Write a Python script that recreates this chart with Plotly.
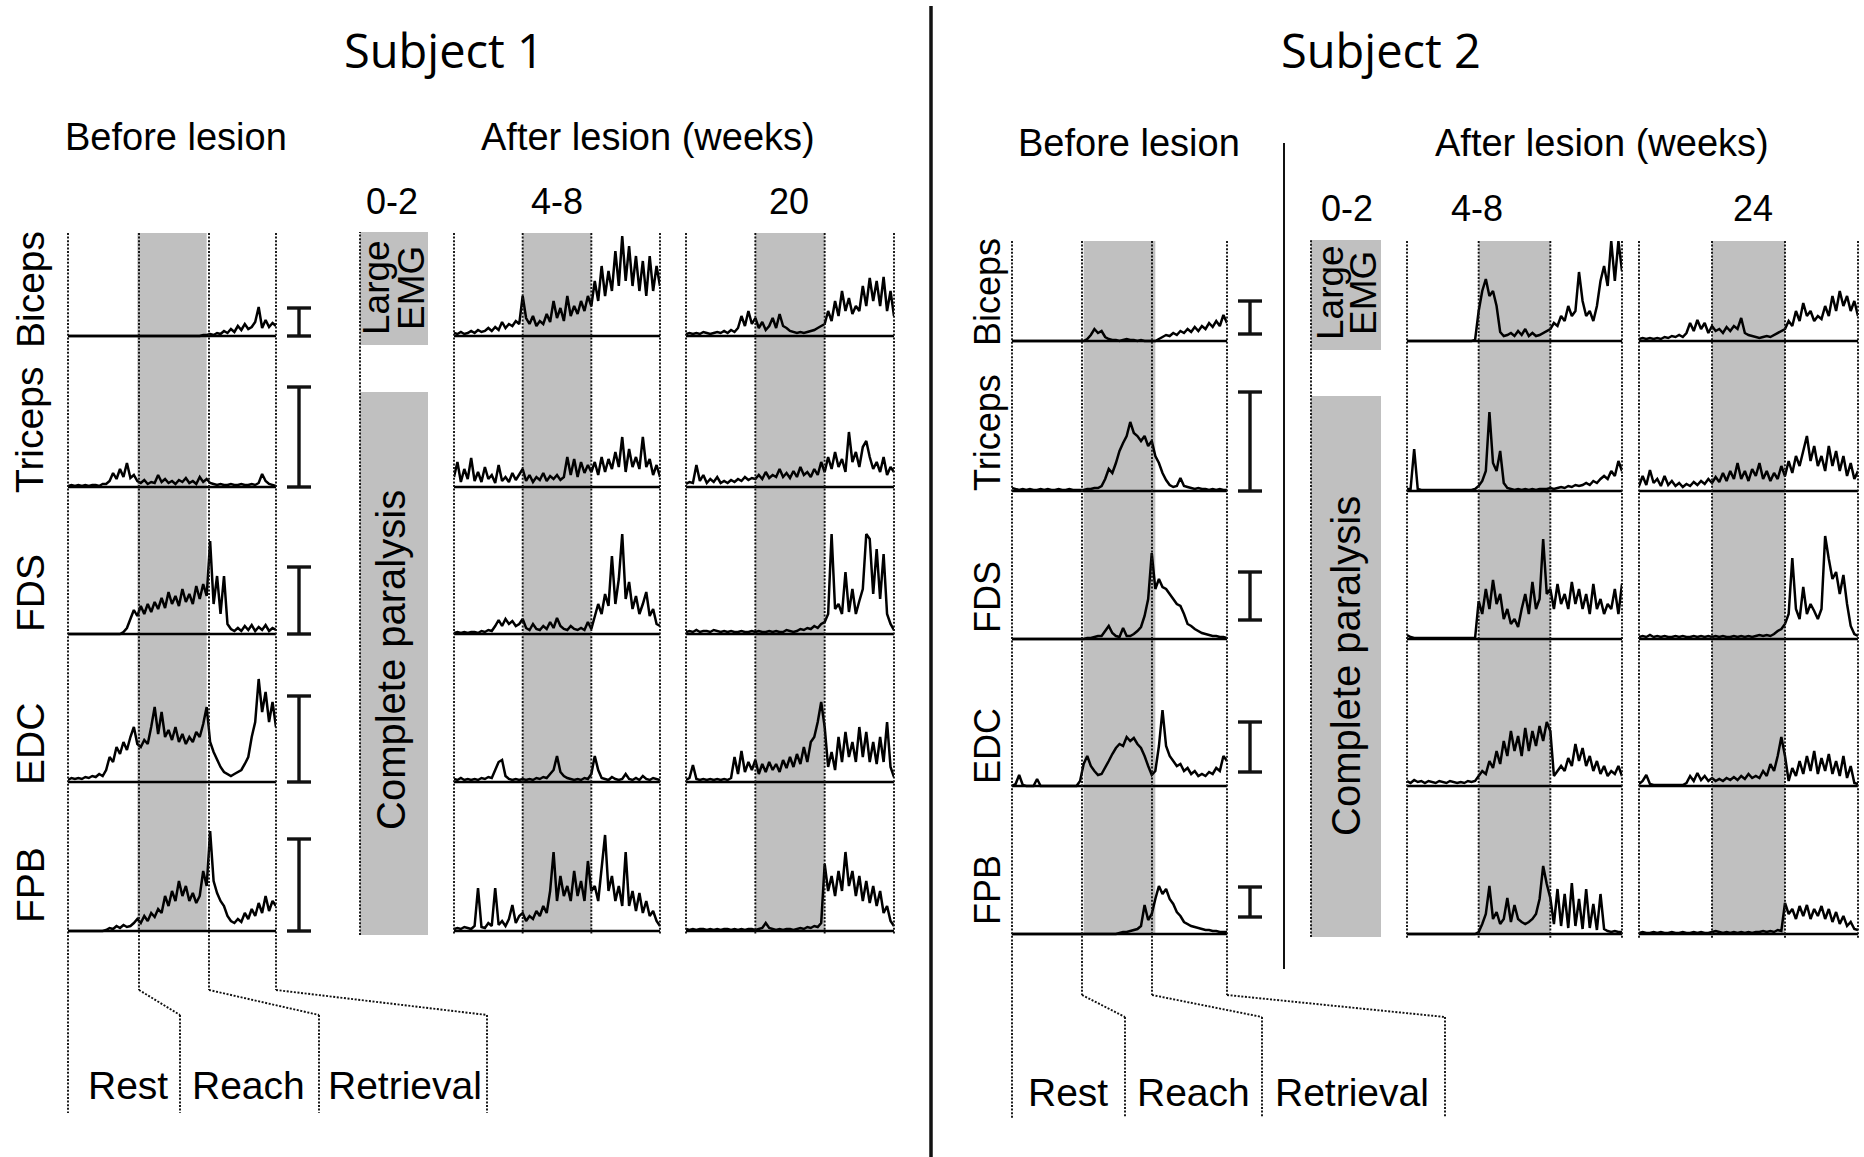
import plotly.graph_objects as go

W, H = 1864, 1157

# ---------------- labels ----------------
MUSCLES = ["Biceps", "Triceps", "FDS", "EDC", "FPB"]
PHASES = ["Rest", "Reach", "Retrieval"]
S1_PERIODS = ["0-2", "4-8", "20"]
S2_PERIODS = ["0-2", "4-8", "24"]

# sample positions in phase units (0-1 rest, 1-2 reach, 2-3 retrieval)
N = 61
X = [i * 0.05 for i in range(N)]

# ---------------- EMG envelopes (px above baseline) ----------------
# Subject 1, before lesion
S1_PRE_BICEPS = [0,0,0,0,0,0,0,0,0,0, 0,0,0,0,0,0,0,0,0,0, 0,0,0,0,0,0,0,0,0,0,
                 0,0,0,0,0,0,0,0,0,1, 1,2,1,3,2,5,3,7,4,10, 6,12,7,9,14,29,8,16,9,13, 10]
S1_PRE_TRICEPS = [1,2,1,2,1,2,1,2,2,1, 3,3,6,14,8,18,10,24,9,12, 6,4,7,3,5,4,12,5,8,4,
                  6,3,7,5,9,4,6,3,10,5, 8,4,3,2,3,2,2,3,2,2, 3,2,2,3,2,4,13,6,3,2, 1]
S1_PRE_FDS = [0,0,0,0,0,0,0,0,0,0, 0,0,0,0,0,0,2,6,15,24, 18,28,20,30,22,32,25,36,26,42,
              30,38,28,45,32,40,30,48,35,50, 38,93,30,58,20,58,10,5,3,6, 3,8,4,9,3,7,4,9,3,6, 4]
S1_PRE_EDC = [2,4,3,4,3,5,4,6,5,8, 6,12,25,20,35,28,40,32,45,55, 38,35,42,38,55,75,48,70,45,52,
              42,55,40,48,38,45,40,50,45,58, 75,40,30,22,15,10,8,6,8,10, 12,18,25,45,60,103,70,90,60,80, 55]
S1_PRE_FPB = [0,0,0,0,0,0,0,0,0,0, 0,1,3,2,5,3,6,4,5,8, 12,8,15,10,18,14,22,18,35,25,
              40,30,50,35,45,30,38,28,35,60, 45,100,50,38,30,25,15,10,8,12, 9,18,12,22,15,28,18,35,20,30, 25]

# Subject 1, 4-8 weeks
S1_W48_BICEPS = [3,2,4,2,3,5,3,6,4,5, 8,5,9,6,14,8,12,10,15,12, 40,18,12,20,10,15,12,22,14,35,
                 18,28,15,40,20,30,22,35,25,40, 30,55,35,70,40,65,45,85,50,100, 55,90,50,80,45,75,40,80,45,70, 50]
S1_W48_TRICEPS = [10,25,5,18,8,29,6,15,5,20, 8,12,4,22,6,10,5,14,7,12, 18,6,12,5,10,7,14,6,11,8,
                  12,7,10,30,12,28,10,25,14,22, 15,25,12,30,15,28,18,35,20,50, 15,38,20,30,18,50,20,28,12,22, 10]
S1_W48_FDS = [1,2,1,2,1,2,2,1,3,2, 4,3,8,14,8,15,10,13,8,10, 15,6,4,10,5,4,8,5,12,6,
              16,8,5,4,8,5,4,6,4,12, 5,18,30,20,40,28,78,30,55,100, 35,52,25,38,20,30,42,18,25,10, 8]
S1_W48_EDC = [3,2,4,2,3,2,3,2,4,3, 5,4,12,20,22,6,3,2,3,2, 3,2,3,2,4,3,5,4,8,12,
              26,10,6,4,3,2,3,2,4,3, 8,26,12,4,3,2,5,3,2,3, 8,3,2,4,2,6,3,2,4,3, 2]
S1_W48_FPB = [2,3,2,4,3,2,5,43,4,3, 8,5,43,6,10,5,12,26,8,15, 18,10,15,12,20,15,25,18,40,79,
              30,55,35,45,30,60,35,50,30,70, 40,45,30,60,96,40,55,30,45,25, 79,25,40,20,38,18,30,15,20,10, 5]

# Subject 1, 20 weeks
S1_W20_BICEPS = [2,3,2,3,2,4,3,2,3,4, 3,5,3,6,4,8,20,10,25,12, 18,8,14,6,10,18,8,22,10,8,
                 5,4,3,4,3,4,5,6,8,10, 12,25,15,35,20,45,25,38,22,30, 25,50,30,58,35,55,30,59,25,45, 20]
S1_W20_TRICEPS = [3,5,4,22,6,12,4,8,5,10, 4,6,4,7,5,8,6,10,7,9, 8,12,8,15,9,12,10,18,10,14,
                  9,16,10,20,12,15,10,18,12,25, 15,30,18,35,20,28,15,55,25,35, 20,40,46,30,18,25,15,30,12,20, 15]
S1_W20_FDS = [2,3,2,4,2,3,3,2,4,3, 2,3,2,3,2,2,3,2,2,3, 2,3,2,2,3,2,3,2,2,4,
              3,2,3,5,4,6,5,8,6,10, 12,20,100,25,30,20,62,22,45,20, 33,45,100,95,40,85,35,80,20,10, 4]
S1_W20_EDC = [2,4,17,3,2,3,2,3,2,3, 2,3,2,4,25,8,31,10,20,12, 22,8,18,10,20,12,18,10,22,14,
              25,15,28,18,35,20,40,45,60,80, 55,15,30,12,45,20,50,25,40,20, 55,25,50,20,40,18,45,20,60,15, 5]
S1_W20_FPB = [2,1,2,1,2,2,1,2,1,2, 1,2,2,1,2,1,2,1,2,2, 1,2,3,8,3,2,1,2,1,2,
              2,1,2,3,2,4,3,5,4,8, 67,40,55,35,60,40,79,45,60,35, 55,30,50,28,45,25,40,18,25,10, 5]

# Subject 2, before lesion
S2_PRE_BICEPS = [0,0,0,0,0,0,0,0,0,0, 0,0,0,0,0,0,0,0,0,0, 0,2,6,12,8,10,4,2,1,1,
                 0,1,2,1,1,0,1,0,0,0, 0,2,4,6,5,8,6,10,8,12, 9,14,10,15,12,18,14,20,15,26, 18]
S2_PRE_TRICEPS = [3,2,1,2,1,2,1,1,2,1, 2,1,1,2,1,1,2,1,1,1, 1,2,2,3,3,5,12,22,18,28,
                  40,48,55,69,58,55,50,55,45,50, 35,28,18,11,6,4,5,13,5,4, 3,2,3,2,2,1,2,1,2,1, 1]
S2_PRE_FDS = [0,0,0,0,0,0,0,0,0,0, 0,0,0,0,0,0,0,0,0,0, 0,1,1,2,3,3,8,13,6,3,
              2,11,3,3,5,8,12,23,40,86, 50,60,52,50,45,40,35,33,25,15, 13,10,8,6,5,4,3,3,2,2, 1]
S2_PRE_EDC = [0,2,11,1,0,0,0,7,0,0, 0,0,0,0,0,0,0,0,0,5, 22,30,20,15,11,12,18,25,32,38,
              42,40,49,45,48,42,38,30,20,11, 15,40,76,40,30,25,20,22,15,18, 12,15,10,12,10,14,12,18,15,30, 25]
S2_PRE_FPB = [0,0,0,0,0,0,0,0,0,0, 0,0,0,0,0,0,0,0,0,0, 0,0,0,0,0,0,0,0,0,0,
              1,2,2,3,4,5,8,29,14,20, 35,48,40,45,35,30,22,18,12,10, 8,7,6,5,4,4,3,3,2,2, 2]

# Subject 2, 4-8 weeks
S2_W48_BICEPS = [0,0,0,0,0,0,0,0,0,0, 0,0,0,0,0,0,0,0,0,1, 30,50,62,45,50,35,9,5,6,8,
                 5,10,6,12,5,8,5,6,8,10, 12,18,15,25,20,35,25,30,69,40, 25,30,20,35,60,75,55,100,60,100, 70]
S2_W48_TRICEPS = [2,2,42,2,1,1,1,1,1,1, 1,1,1,1,1,1,1,1,1,2, 5,10,20,79,28,20,40,8,3,2,
                  1,2,1,2,1,2,1,2,2,2, 3,2,3,4,3,5,4,6,5,6, 8,6,10,8,12,15,12,20,15,30, 20]
S2_W48_FDS = [4,2,1,1,1,1,1,1,1,1, 1,1,1,1,1,1,1,1,1,1, 38,25,50,30,59,35,45,20,30,15,
              20,12,30,45,25,57,30,40,100,45, 50,30,55,35,45,30,57,35,50,30, 45,25,55,30,40,25,35,30,50,25, 55]
S2_W48_EDC = [5,3,6,4,5,3,5,4,3,5, 4,3,5,4,3,4,3,5,4,5, 10,15,12,25,18,35,22,45,30,55,
              35,50,30,58,35,55,40,60,45,64, 55,10,15,20,15,28,20,42,25,38, 20,30,15,25,12,20,10,15,12,20, 10]
S2_W48_FPB = [0,0,0,0,0,0,0,0,0,0, 0,0,0,0,0,0,0,0,0,0, 2,10,20,48,15,22,10,15,36,12,
              29,15,12,10,12,15,20,35,68,50, 36,10,45,8,40,6,51,8,35,5, 45,6,30,4,40,5,3,2,3,2, 2]

# Subject 2, 24 weeks
S2_W24_BICEPS = [2,3,2,3,2,3,2,4,3,5, 4,6,4,8,18,10,21,12,18,8, 15,10,12,8,14,10,15,12,23,8,
                 6,5,4,3,4,5,4,6,8,10, 12,20,15,30,20,38,25,30,20,25, 22,35,25,45,30,50,35,45,30,40, 25]
S2_W24_TRICEPS = [5,15,6,21,8,12,5,15,6,10, 5,8,4,7,5,9,6,10,7,12, 8,14,9,18,10,20,12,28,12,20,
                  10,22,15,28,12,20,10,18,12,25, 15,30,18,35,25,40,55,30,45,25, 35,20,45,25,40,20,35,15,28,12, 20]
S2_W24_FDS = [2,3,2,4,2,3,2,3,2,2, 3,2,3,2,2,3,2,3,2,3, 2,3,2,3,2,2,3,2,3,2,
              3,2,3,4,3,4,3,5,8,10, 15,25,81,30,20,52,25,35,28,20, 30,103,80,60,67,45,64,35,13,5, 3]
S2_W24_EDC = [2,5,11,2,1,1,1,1,1,1, 1,1,1,3,10,5,13,6,10,5, 8,5,7,5,8,6,9,6,10,7,
              12,8,10,8,15,10,22,15,30,49, 30,5,18,10,25,12,30,15,35,12, 28,15,32,12,25,10,30,8,20,3, 2]
S2_W24_FPB = [1,2,1,1,2,1,2,1,1,2, 1,1,2,1,1,2,1,2,1,1, 2,3,2,1,2,1,2,1,2,1,
              2,1,2,2,3,2,3,2,4,3, 31,20,25,15,28,18,29,15,25,18, 28,15,25,12,22,10,18,8,12,5, 4]

# scale bars (px): bottom offset above baseline, length
S1_SCALE_BOTTOM = [0, 0, 0, 0, 0]
S1_SCALE_LEN = [28, 100, 67, 86, 92]
S2_SCALE_BOTTOM = [7, 0, 19, 14, 17]
S2_SCALE_LEN = [33, 99, 48, 50, 30]

S1_PRE = [S1_PRE_BICEPS, S1_PRE_TRICEPS, S1_PRE_FDS, S1_PRE_EDC, S1_PRE_FPB]
S1_W48 = [S1_W48_BICEPS, S1_W48_TRICEPS, S1_W48_FDS, S1_W48_EDC, S1_W48_FPB]
S1_W20 = [S1_W20_BICEPS, S1_W20_TRICEPS, S1_W20_FDS, S1_W20_EDC, S1_W20_FPB]
S2_PRE = [S2_PRE_BICEPS, S2_PRE_TRICEPS, S2_PRE_FDS, S2_PRE_EDC, S2_PRE_FPB]
S2_W48 = [S2_W48_BICEPS, S2_W48_TRICEPS, S2_W48_FDS, S2_W48_EDC, S2_W48_FPB]
S2_W24 = [S2_W24_BICEPS, S2_W24_TRICEPS, S2_W24_FDS, S2_W24_EDC, S2_W24_FPB]
for grp in (S1_PRE, S1_W48, S1_W20, S2_PRE, S2_W48, S2_W24):
    for arr in grp:
        assert len(arr) == N, len(arr)

# ---------------- layout geometry (pixels) ----------------
def px(x):
    return x / W

def py(y):
    return 1 - y / H

ROW_TOP = [[234, 336, 487, 634, 782], [241, 341, 491, 639, 786]]
ROW_BASE = [[336, 487, 634, 782, 931], [341, 491, 639, 786, 934]]
PANEL_TOP = [233, 241]
PANEL_BOTTOM = [935, 938]

PANELS = [
    dict(k=1, s=0, x0=68, x1=276, data=S1_PRE, before=True),
    dict(k=2, s=0, x0=454, x1=660, data=S1_W48, before=False),
    dict(k=3, s=0, x0=686, x1=894, data=S1_W20, before=False),
    dict(k=4, s=1, x0=1012, x1=1227, data=S2_PRE, before=True),
    dict(k=5, s=1, x0=1407, x1=1622, data=S2_W48, before=False),
    dict(k=6, s=1, x0=1639, x1=1858, data=S2_W24, before=False),
]

def axname(letter, k):
    return f"{letter}axis" if k == 1 else f"{letter}axis{k}"

def axref(letter, k):
    return letter if k == 1 else f"{letter}{k}"

fig = go.Figure()
layout_axes = {}
shapes = []
annotations = []

FONT = "Liberation Sans, Arial, sans-serif"
TITLE_FONT = "Open Sans, Liberation Sans, sans-serif"
DOT = "2px,1.6px"
DOT_STYLE = dict(color="#111", width=1.9, dash=DOT)

# y axes per subject row
for s in range(2):
    for r in range(5):
        m = s * 5 + r + 1
        T, B = ROW_TOP[s][r], ROW_BASE[s][r]
        layout_axes[axname("y", m)] = dict(domain=[py(B + 2), py(T)], range=[-2, B - T],
                                           visible=False, fixedrange=True,
                                           anchor=axref("x", s * 3 + 1))

for p in PANELS:
    k, s = p["k"], p["s"]
    layout_axes[axname("x", k)] = dict(domain=[px(p["x0"]), px(p["x1"])], range=[0, 3],
                                       visible=False, fixedrange=True,
                                       anchor=axref("y", s * 5 + 1))
    top, bot = PANEL_TOP[s], ROW_BASE[s][4]
    # grey reach band
    shapes.append(dict(type="rect", xref=axref("x", k), yref="paper", x0=1, x1=2,
                       y0=py(bot), y1=py(top), fillcolor="#c0c0c0", line_width=0, layer="below"))
    for r in range(5):
        m = s * 5 + r + 1
        fig.add_trace(go.Scatter(x=X, y=p["data"][r], xaxis=axref("x", k), yaxis=axref("y", m),
                                 mode="lines", line=dict(color="black", width=2.5),
                                 hoverinfo="skip", showlegend=False))
        shapes.append(dict(type="line", xref=axref("x", k), yref=axref("y", m), x0=0, x1=3, y0=0, y1=0,
                           line=dict(color="black", width=2.4)))
    # dotted phase boundaries
    step = (p["x1"] - p["x0"]) / 3
    for j in range(4):
        xx = p["x0"] + j * step
        if not p["before"]:
            shapes.append(dict(type="line", xref="paper", yref="paper", x0=px(xx), x1=px(xx),
                               y0=py(top), y1=py(PANEL_BOTTOM[s]), line=DOT_STYLE))

# before-lesion dotted guide lines down to phase labels
GUIDES = [
    [[(68, 233), (68, 1113)],
     [(139, 233), (139, 990), (180, 1015), (180, 1113)],
     [(209, 233), (209, 990), (319, 1015), (319, 1113)],
     [(276, 233), (276, 990), (487, 1015), (487, 1113)]],
    [[(1012, 241), (1012, 1118)],
     [(1082, 241), (1082, 995), (1125, 1017), (1125, 1117)],
     [(1152, 241), (1152, 995), (1262, 1017), (1262, 1117)],
     [(1227, 241), (1227, 995), (1445, 1017), (1445, 1117)]],
]
for g in GUIDES:
    for pts in g:
        for (a, b) in zip(pts[:-1], pts[1:]):
            shapes.append(dict(type="line", xref="paper", yref="paper",
                               x0=px(a[0]), y0=py(a[1]), x1=px(b[0]), y1=py(b[1]), line=DOT_STYLE))

# phase labels
for s, xs, yy in ((0, [128, 248, 405], 1085), (1, [1068, 1193, 1352], 1092)):
    for name, xx in zip(PHASES, xs):
        annotations.append(dict(text=name, x=px(xx), y=py(yy), xref="paper", yref="paper",
                                showarrow=False, xanchor="center", yanchor="middle",
                                font=dict(family=FONT, size=39, color="black")))

# scale bars
for s, xc, bottoms, lens in ((0, 299, S1_SCALE_BOTTOM, S1_SCALE_LEN),
                             (1, 1250, S2_SCALE_BOTTOM, S2_SCALE_LEN)):
    for r in range(5):
        m = s * 5 + r + 1
        y0 = bottoms[r]
        y1 = bottoms[r] + lens[r]
        yr = axref("y", m)
        shapes.append(dict(type="line", xref="paper", yref=yr, x0=px(xc), x1=px(xc), y0=y0, y1=y1,
                           line=dict(color="#111", width=3.4)))
        for yy in (y0, y1):
            shapes.append(dict(type="line", xref="paper", yref=yr, x0=px(xc - 12), x1=px(xc + 12),
                               y0=yy, y1=yy, line=dict(color="#111", width=3.4)))

# 0-2 weeks column boxes
for (bx0, bx1, ly0, ly1, cy0, cy1, dtop, dbot, lx, ex, ly, cx, cyc) in (
        (360, 428, 232, 345, 392, 935, 232, 935, 377, 412, 288, 391, 660),
        (1311, 1381, 240, 350, 396, 937, 240, 937, 1330, 1363, 293, 1346, 666)):
    shapes.append(dict(type="rect", xref="paper", yref="paper", x0=px(bx0), x1=px(bx1),
                       y0=py(ly1), y1=py(ly0), fillcolor="#c0c0c0", line_width=0, layer="below"))
    shapes.append(dict(type="rect", xref="paper", yref="paper", x0=px(bx0), x1=px(bx1),
                       y0=py(cy1), y1=py(cy0), fillcolor="#c0c0c0", line_width=0, layer="below"))
    shapes.append(dict(type="line", xref="paper", yref="paper", x0=px(bx0), x1=px(bx0),
                       y0=py(dbot), y1=py(dtop), line=DOT_STYLE))
    annotations.append(dict(text="Large", x=px(lx), y=py(ly), xref="paper", yref="paper",
                            showarrow=False, textangle=-90, xanchor="center", yanchor="middle",
                            font=dict(family=FONT, size=37, color="black")))
    annotations.append(dict(text="EMG", x=px(ex), y=py(ly), xref="paper", yref="paper",
                            showarrow=False, textangle=-90, xanchor="center", yanchor="middle",
                            font=dict(family=FONT, size=37, color="black")))
    annotations.append(dict(text="Complete paralysis", x=px(cx), y=py(cyc), xref="paper", yref="paper",
                            showarrow=False, textangle=-90, xanchor="center", yanchor="middle",
                            font=dict(family=FONT, size=40, color="black")))

# muscle labels
for s, xc, ys, fs in ((0, 30, [290, 430, 593, 744, 885], 39), (1, 987, [292, 433, 597, 746, 890], 36)):
    for name, yy in zip(MUSCLES, ys):
        annotations.append(dict(text=name, x=px(xc), y=py(yy), xref="paper", yref="paper",
                                showarrow=False, textangle=-90, xanchor="center", yanchor="middle",
                                font=dict(family=FONT, size=fs, color="black")))

# headers
HEADERS = [
    ("Subject 1", 444, 50, TITLE_FONT, 47),
    ("Subject 2", 1381, 50, TITLE_FONT, 47),
    ("Before lesion", 176, 137, FONT, 38),
    ("After lesion (weeks)", 648, 137, FONT, 38),
    ("Before lesion", 1129, 143, FONT, 38),
    ("After lesion (weeks)", 1602, 143, FONT, 38),
]
for t, xx, yy, fam, fs in HEADERS:
    annotations.append(dict(text=t, x=px(xx), y=py(yy), xref="paper", yref="paper", showarrow=False,
                            xanchor="center", yanchor="middle", font=dict(family=fam, size=fs, color="black")))
for labels, xs, yy in ((S1_PERIODS, [392, 557, 789], 202), (S2_PERIODS, [1347, 1477, 1753], 208)):
    for t, xx in zip(labels, xs):
        annotations.append(dict(text=t, x=px(xx), y=py(yy), xref="paper", yref="paper", showarrow=False,
                                xanchor="center", yanchor="middle",
                                font=dict(family=FONT, size=36, color="black")))

# separators
shapes.append(dict(type="line", xref="paper", yref="paper", x0=px(931), x1=px(931), y0=py(1157), y1=py(6),
                   line=dict(color="#111", width=3.5)))
shapes.append(dict(type="line", xref="paper", yref="paper", x0=px(1284), x1=px(1284), y0=py(969), y1=py(143),
                   line=dict(color="#111", width=2)))

fig.update_layout(width=W, height=H, margin=dict(l=0, r=0, t=0, b=0),
                  paper_bgcolor="white", plot_bgcolor="rgba(0,0,0,0)",
                  showlegend=False, shapes=shapes, annotations=annotations, **layout_axes)

fig.write_html("out.html", config={"displayModeBar": False},
               post_script="document.body.style.margin='0';document.body.style.overflow='hidden';")
